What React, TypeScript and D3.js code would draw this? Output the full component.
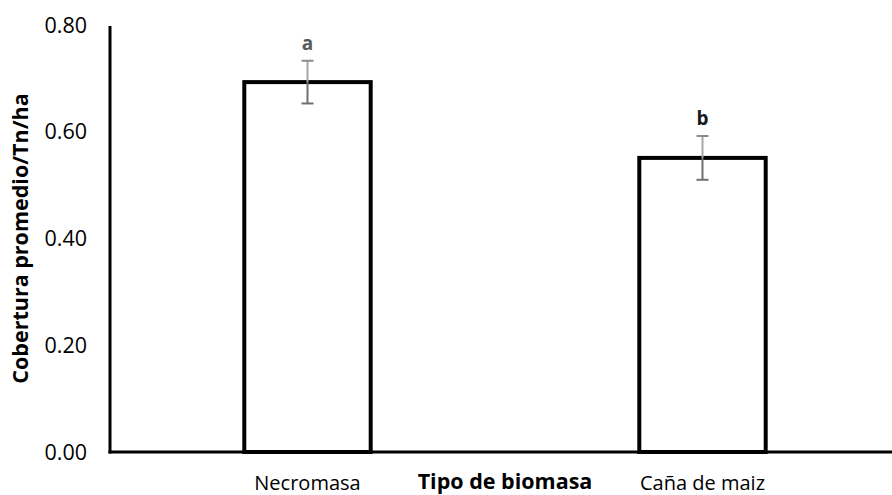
import { useRef, useEffect } from 'react';
import * as d3 from 'd3';

const categories = ['Necromasa', 'Caña de maiz'];
const means = [0.693, 0.551];
const errors = [0.04, 0.041];
const letters = ['a', 'b'];
const yTicks = [0, 0.2, 0.4, 0.6, 0.8];

const FONT = "'Open Sans', 'Noto Sans', sans-serif";

function BarChart({ width = 892, height = 495 }) {
  const ref = useRef<SVGSVGElement | null>(null);

  useEffect(() => {
    document.body.style.margin = '0';
    document.body.style.overflow = 'hidden';

    const svg = d3.select(ref.current);
    svg.selectAll('*').remove();

    const left = 110;
    const right = 900;
    const top = 25;
    const bottom = 452;

    const x = d3
      .scaleBand<string>()
      .domain(categories)
      .range([left, right])
      .paddingInner(0.68)
      .paddingOuter(0.34);

    const y = d3.scaleLinear().domain([0, 0.8]).range([bottom, top]);

    const g = svg.append('g').style('font-family', FONT);

    // bars
    g.selectAll('rect.bar')
      .data(categories)
      .join('rect')
      .attr('class', 'bar')
      .attr('x', d => x(d)!)
      .attr('y', (_, i) => y(means[i]))
      .attr('width', x.bandwidth())
      .attr('height', (_, i) => y(0) - y(means[i]))
      .attr('fill', '#fff')
      .attr('stroke', '#000')
      .attr('stroke-width', 4);

    // error bars + significance letters
    categories.forEach((c, i) => {
      const cx = x(c)! + x.bandwidth() / 2;
      const yHi = y(means[i] + errors[i]);
      const yMid = y(means[i]);
      const yLo = y(means[i] - errors[i]);
      g.append('line')
        .attr('x1', cx).attr('x2', cx)
        .attr('y1', yHi).attr('y2', yMid)
        .attr('stroke', '#a6a6a6').attr('stroke-width', 2);
      g.append('line')
        .attr('x1', cx).attr('x2', cx)
        .attr('y1', yMid).attr('y2', yLo)
        .attr('stroke', '#6f6f6f').attr('stroke-width', 2);
      g.append('line')
        .attr('x1', cx - 6).attr('x2', cx + 6)
        .attr('y1', yHi).attr('y2', yHi)
        .attr('stroke', '#8c8c8c').attr('stroke-width', 2);
      g.append('line')
        .attr('x1', cx - 6).attr('x2', cx + 6)
        .attr('y1', yLo).attr('y2', yLo)
        .attr('stroke', '#6f6f6f').attr('stroke-width', 2);

      g.append('text')
        .attr('x', cx)
        .attr('y', yHi - 11)
        .attr('text-anchor', 'middle')
        .attr('font-weight', 'bold')
        .attr('font-size', 19)
        .attr('fill', i === 0 ? '#595959' : '#1a1a1a')
        .text(letters[i]);
    });

    // axes lines
    g.append('line')
      .attr('x1', left).attr('x2', left)
      .attr('y1', y(0.8) + 1).attr('y2', bottom + 1.5)
      .attr('stroke', '#000').attr('stroke-width', 3);
    g.append('line')
      .attr('x1', left - 1.5).attr('x2', right)
      .attr('y1', bottom).attr('y2', bottom)
      .attr('stroke', '#000').attr('stroke-width', 3);

    // y tick labels
    g.selectAll('text.ytick')
      .data(yTicks)
      .join('text')
      .attr('class', 'ytick')
      .attr('x', 87)
      .attr('y', d => y(d))
      .attr('dy', '0.36em')
      .attr('text-anchor', 'end')
      .attr('font-size', 21.5)
      .attr('fill', '#000')
      .text(d => d3.format('.2f')(d));

    // category labels
    g.selectAll('text.xcat')
      .data(categories)
      .join('text')
      .attr('class', 'xcat')
      .attr('x', d => x(d)! + x.bandwidth() / 2)
      .attr('y', 490)
      .attr('text-anchor', 'middle')
      .attr('font-size', 20)
      .attr('fill', '#000')
      .text(d => d);

    // axis titles
    g.append('text')
      .attr('x', (left + right) / 2)
      .attr('y', 489)
      .attr('text-anchor', 'middle')
      .attr('font-size', 21.5)
      .attr('font-weight', 'bold')
      .text('Tipo de biomasa');

    g.append('text')
      .attr('transform', `translate(28,${(top + bottom) / 2}) rotate(-90)`)
      .attr('text-anchor', 'middle')
      .attr('font-size', 21.5)
      .attr('font-weight', 'bold')
      .text('Cobertura promedio/Tn/ha');
  }, [width, height]);

  return (
    <svg
      ref={ref}
      width={width}
      height={height}
      style={{ display: 'block', position: 'absolute', left: 0, top: 0 }}
    ></svg>
  );
}

export default function App() {
  return <BarChart />;
}
